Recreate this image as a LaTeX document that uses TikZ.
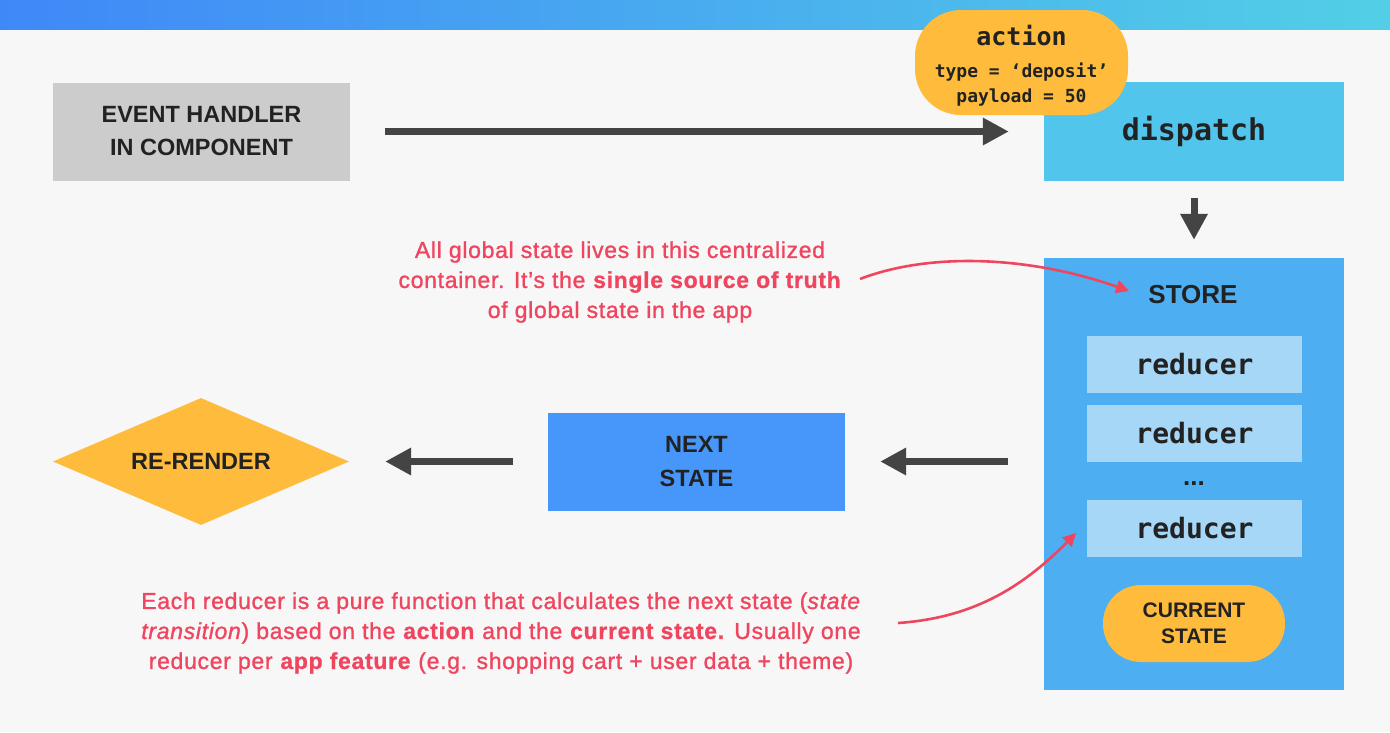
\documentclass[tikz,border=0pt]{standalone}
\usepackage{fontspec}
\setmainfont{Liberation Sans}
\newfontfamily\monof{DejaVu Sans Mono}
\newfontfamily\notef[LetterSpace=3,FakeBold=1.2,BoldFeatures={FakeBold=0.8}]{Liberation Sans}
\usetikzlibrary{arrows.meta,shapes.geometric}
\definecolor{bgc}{HTML}{F7F7F7}
\definecolor{evc}{HTML}{CCCCCC}
\definecolor{dispc}{HTML}{52C5EC}
\definecolor{storec}{HTML}{4DAEF2}
\definecolor{redc}{HTML}{A6D7F7}
\definecolor{nextc}{HTML}{4796FA}
\definecolor{orc}{HTML}{FFBB3C}
\definecolor{arrc}{HTML}{444444}
\definecolor{txc}{HTML}{222222}
\definecolor{notec}{HTML}{F0455F}
\definecolor{barl}{HTML}{3F88F8}
\definecolor{barr}{HTML}{52CFE6}
\begin{document}
\begin{tikzpicture}[x=1pt,y=-1pt,
  box/.style={rectangle, inner sep=0pt, text=txc, align=center},
  headf/.style={font=\fontsize{23.5}{33}\selectfont\bfseries},
  monobox/.style={font=\monof\fontsize{28}{28}\selectfont\bfseries},
  reducerbox/.style={box, fill=redc, minimum width=215pt, minimum height=57pt, monobox},
  bigarrow/.style={draw=arrc, line width=7pt, -{Triangle[length=26pt,width=26pt]}},
  notearrow/.style={draw=notec, line width=2.6pt, -{Triangle[length=13pt,width=13pt]}},
  note/.style={text=notec, align=center, font=\notef\fontsize{23}{30}\selectfont}
]
\fill[bgc] (0,0) rectangle (1390,732);
\useasboundingbox (0,0) rectangle (1390,732);
\shade[left color=barl, right color=barr] (0,0) rectangle (1390,29);

% nodes
\node[box, headf, fill=evc, minimum width=297pt, minimum height=98pt] (eh) at (201.5,131.5) {EVENT HANDLER\\IN COMPONENT};
\node[box, fill=dispc, minimum width=300pt, minimum height=99pt, font=\monof\fontsize{30}{30}\selectfont\bfseries] (disp) at (1194,131.5) {dispatch};
\node[box, fill=orc, rounded corners=46pt, minimum width=213pt, minimum height=105pt] (act) at (1021.5,62.5) {};
\node[text=txc, font=\monof\fontsize{25}{25}\selectfont\bfseries] (actt) at (1021.5,36) {action};
\node[text=txc, align=center, font=\monof\fontsize{18}{25}\selectfont\bfseries] (actd) at (1021.5,85) {type = ‘deposit’\\payload = 50};

\node[box, fill=storec, minimum width=300pt, minimum height=432pt] (store) at (1194,474) {};
\node[text=txc, font=\fontsize{26}{26}\selectfont\bfseries] (storel) at (1193,295) {STORE};
\node[reducerbox] (r1) at (1194.5,364.5) {reducer};
\node[reducerbox] (r2) at (1194.5,433.5) {reducer};
\node[text=txc, font=\bfseries\fontsize{26}{26}\selectfont] (dots) at (1194,484) {...};
\node[reducerbox] (r3) at (1194.5,528.5) {reducer};
\node[box, fill=orc, rounded corners=38pt, minimum width=182pt, minimum height=77pt, font=\fontsize{21}{26}\selectfont\bfseries] (cur) at (1194,623.5) {CURRENT\\STATE};

\node[box, fill=nextc, minimum width=297pt, minimum height=98pt, font=\fontsize{23.5}{34}\selectfont\bfseries] (next) at (696.5,461.5) {NEXT\\STATE};
\node[diamond, fill=orc, text=txc, inner sep=0pt, aspect=2.33, minimum width=296pt, minimum height=127pt, headf] (rr) at (201,461.5) {RE-RENDER};

% notes
\node[note] (n1) at (620,282) {All global state lives in this centralized\\container. It’s the \textbf{single source of truth}\\of global state in the app};
\node[note] (n2) at (501,633) {Each reducer is a pure function that calculates the next state (\textit{state}\\\textit{transition}) based on the \textbf{action} and the \textbf{current state.} Usually one\\reducer per \textbf{app feature} (e.g. shopping cart + user data + theme)};

% connectors
\draw[bigarrow, shorten <=35pt, shorten >=35pt] (eh.east) -- (disp.west);
\draw[bigarrow, shorten <=17pt, shorten >=18pt] (disp.south) -- (store.north);
\draw[bigarrow, shorten <=36pt, shorten >=35pt] (store.west |- next.east) -- (next.east);
\draw[bigarrow, shorten <=35pt, shorten >=36pt] (next.west) -- (rr.east);

\coordinate (a1s) at (860,279);
\coordinate (a1e) at (1129,291);
\draw[notearrow] (a1s) .. controls (930,252) and (1030,256) .. (a1e);
\coordinate (a2s) at (898,623);
\coordinate (a2e) at (1076,533);
\draw[notearrow] (a2s) .. controls (970,618) and (1020,590) .. (a2e);
\end{tikzpicture}
\end{document}
